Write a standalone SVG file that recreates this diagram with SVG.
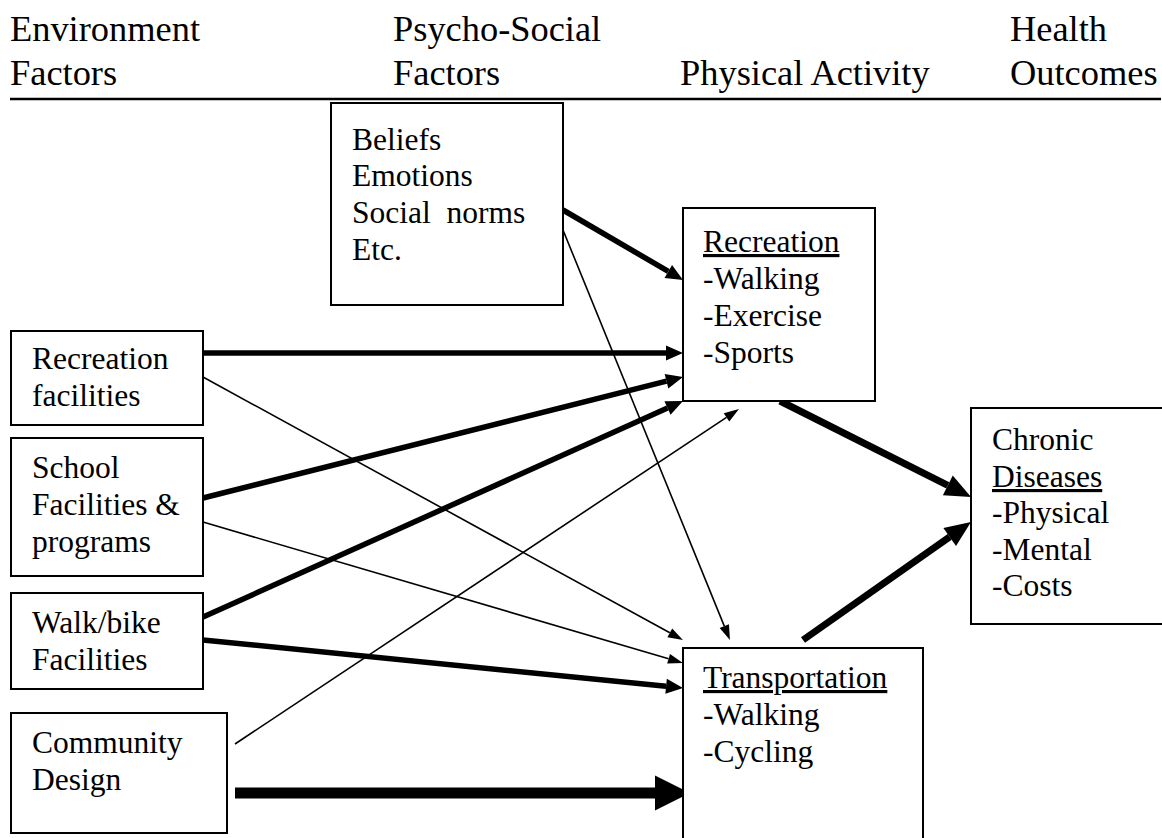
<svg xmlns="http://www.w3.org/2000/svg" width="1162" height="838" viewBox="0 0 1162 838">
<style>
text{font-family:"Liberation Serif","Times New Roman",serif;fill:#000}
.hd{font-size:36.4px}
.bx{font-size:31.5px}
.u{text-decoration:underline}
rect.node{fill:#fff;stroke:#000;stroke-width:2}
.thin{stroke:#000;stroke-width:1.6;fill:none;marker-end:url(#mThin)}
.thick{stroke:#000;stroke-width:5.5;fill:none;marker-end:url(#mThick)}
.heavy{stroke:#000;stroke-width:7;fill:none;marker-end:url(#mHeavy)}
.big{stroke:#000;stroke-width:11;fill:none;marker-end:url(#mBig)}
</style>
<defs>
<marker id="mThin" markerUnits="userSpaceOnUse" markerWidth="15" markerHeight="10" refX="0" refY="5" orient="auto" overflow="visible"><path d="M0,0 L15,5 L0,10 Z" fill="#000"/></marker>
<marker id="mThick" markerUnits="userSpaceOnUse" markerWidth="17" markerHeight="15" refX="0" refY="7.5" orient="auto" overflow="visible"><path d="M0,0 L17,7.5 L0,15 Z" fill="#000"/></marker>
<marker id="mHeavy" markerUnits="userSpaceOnUse" markerWidth="26" markerHeight="22" refX="0" refY="11" orient="auto" overflow="visible"><path d="M0,0 L26,11 L0,22 Z" fill="#000"/></marker>
<marker id="mBig" markerUnits="userSpaceOnUse" markerWidth="35" markerHeight="35" refX="0" refY="17.5" orient="auto" overflow="visible"><path d="M0,0 L35,17.5 L0,35 Z" fill="#000"/></marker>
</defs>
<rect width="1162" height="838" fill="#fff"/>
<g id="header">
<text class="hd" x="10" y="41">Environment</text>
<text class="hd" x="10" y="85">Factors</text>
<text class="hd" x="393" y="41">Psycho-Social</text>
<text class="hd" x="393" y="85">Factors</text>
<text class="hd" x="680" y="85">Physical Activity</text>
<text class="hd" x="1010" y="41">Health</text>
<text class="hd" x="1010" y="85">Outcomes</text>
<line x1="10" y1="99" x2="1161" y2="99" stroke="#000" stroke-width="2.5"/>
</g>
<g id="connectors">
<line class="thin" x1="563" y1="230" x2="724.3" y2="626.1"/>
<line class="thin" x1="203" y1="377" x2="669.8" y2="632.8"/>
<line class="thin" x1="203" y1="522" x2="668.6" y2="658.8"/>
<line class="thin" x1="235" y1="744" x2="726.5" y2="417.3"/>
<line class="thick" x1="563" y1="210" x2="668.3" y2="271.4"/>
<line class="thick" x1="203" y1="353" x2="666" y2="353"/>
<line class="thick" x1="203" y1="498" x2="666.5" y2="381.2"/>
<line class="thick" x1="203" y1="617" x2="667.5" y2="408"/>
<line class="thick" x1="203" y1="640" x2="666.1" y2="686.3"/>
<line class="big" x1="235" y1="793" x2="655" y2="793"/>
<line class="heavy" x1="780" y1="401" x2="947.8" y2="485.3"/>
<line class="heavy" x1="803" y1="640" x2="949.7" y2="536.9"/>
</g>
<g id="beliefs">
<rect class="node" x="331" y="103" width="232" height="202"/>
<text class="bx" x="352" y="150">Beliefs</text>
<text class="bx" x="352" y="186">Emotions</text>
<text class="bx" x="352" y="223" style="white-space:pre">Social  norms</text>
<text class="bx" x="352" y="260">Etc.</text>
</g>
<g id="recreation">
<rect class="node" x="683" y="208" width="192" height="193"/>
<text class="bx u" x="703" y="252">Recreation</text>
<text class="bx" x="703" y="289">-Walking</text>
<text class="bx" x="703" y="326">-Exercise</text>
<text class="bx" x="703" y="363">-Sports</text>
</g>
<g id="transportation">
<rect class="node" x="683" y="648" width="240" height="260"/>
<text class="bx u" x="703" y="688">Transportation</text>
<text class="bx" x="703" y="725">-Walking</text>
<text class="bx" x="703" y="762">-Cycling</text>
</g>
<g id="chronic">
<rect class="node" x="971" y="408" width="220" height="216"/>
<text class="bx" x="992" y="450">Chronic</text>
<text class="bx u" x="992" y="487">Diseases</text>
<text class="bx" x="992" y="523">-Physical</text>
<text class="bx" x="992" y="560">-Mental</text>
<text class="bx" x="992" y="596">-Costs</text>
</g>
<g id="recfac">
<rect class="node" x="11" y="331" width="192" height="94"/>
<text class="bx" x="32" y="369">Recreation</text>
<text class="bx" x="32" y="406">facilities</text>
</g>
<g id="school">
<rect class="node" x="11" y="438" width="192" height="138"/>
<text class="bx" x="32" y="478">School</text>
<text class="bx" x="32" y="515">Facilities &amp;</text>
<text class="bx" x="32" y="552">programs</text>
</g>
<g id="walkbike">
<rect class="node" x="11" y="593" width="192" height="96"/>
<text class="bx" x="32" y="633">Walk/bike</text>
<text class="bx" x="32" y="670">Facilities</text>
</g>
<g id="community">
<rect class="node" x="11" y="713" width="216" height="120"/>
<text class="bx" x="32" y="753">Community</text>
<text class="bx" x="32" y="790">Design</text>
</g>
</svg>
